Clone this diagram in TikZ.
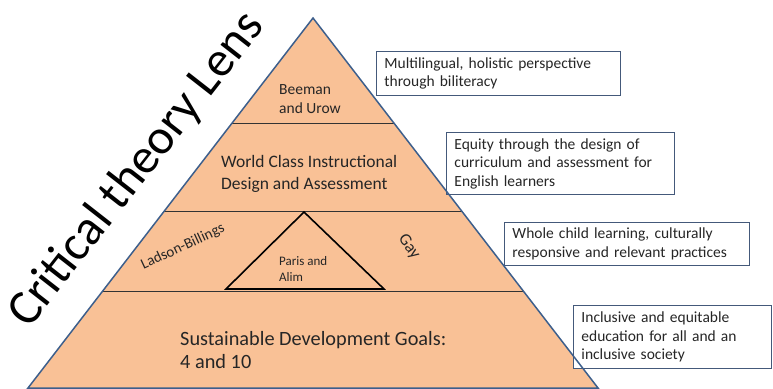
\documentclass[tikz,border=0pt]{standalone}
\usepackage{fontspec}
\setmainfont{Carlito}
\usetikzlibrary{calc}
\definecolor{peach}{HTML}{F9C196}
\definecolor{edgeblue}{HTML}{3D5F8C}
\definecolor{boxblue}{HTML}{44597A}

\tikzset{
	layer/.style={inner sep=0pt, align=left, anchor=west, text=black!85},
	note/.style={draw=boxblue, line width=0.9pt, fill=white, anchor=north west,
		align=left, inner xsep=8pt, inner ysep=0pt, text=black!85,
		font=\fontsize{15.5}{18.5}\selectfont},
}

\begin{document}
\begin{tikzpicture}[x=1pt,y=-1pt]
	\useasboundingbox (0,0) rectangle (773,388);
	% Pyramid corners
	\coordinate (apex) at (313,18);
	\coordinate (bl) at (28,388);
	\coordinate (br) at (598,388);
	\fill[peach] (apex) -- (bl) -- (br) -- cycle;
	% Band dividers
	\foreach \t in {0.2846, 0.523, 0.740} {
		\draw[black!80, line width=0.8pt] ($(apex)!\t!(bl)$) -- ($(apex)!\t!(br)$);
	}
	% Inner triangle
	\coordinate (tip) at (304,212);
	\coordinate (tl) at (226,289);
	\coordinate (tr) at (384,289);
	\draw[black, line width=1.6pt, line join=miter] (tip) -- (tl) -- (tr) -- cycle;
	% Layer labels
	\node[layer, font=\fontsize{15.5}{19}\selectfont] (beeman) at (279,99) {Beeman\\and Urow};
	\node[layer, font=\fontsize{17.5}{22}\selectfont] (wida) at (221,174) {World Class Instructional\\Design and Assessment};
	\node[layer, font=\fontsize{13}{16}\selectfont] (paris) at (279,269) {Paris and\\Alim};
	\node[layer, font=\fontsize{20.3}{23.5}\selectfont] (sdg) at (180,350) {Sustainable Development Goals:\\4 and 10};
	\node[inner sep=0pt, rotate=25, text=black!85, font=\fontsize{15}{17}\selectfont] (ladson) at (183,247) {Ladson-Billings};
	\node[inner sep=0pt, rotate=-55, text=black!85, font=\fontsize{17}{20}\selectfont] (gay) at (409,247) {Gay};
	% Side notes
	\node[note, text width=228pt, minimum height=44pt] (n1) at (376,51) {Multilingual, holistic perspective\\through biliteracy};
	\node[note, text width=212pt, minimum height=62pt] (n2) at (446,132) {Equity through the design of\\curriculum and assessment for\\English learners};
	\node[note, text width=229pt, minimum height=43pt] (n3) at (504,222) {Whole child learning, culturally\\responsive and relevant practices};
	\node[note, text width=182pt, minimum height=63pt] (n4) at (573,305) {Inclusive and equitable\\education for all and an\\inclusive society};
	% Pyramid outline
	\draw[edgeblue, line width=1.5pt, line join=miter] (apex) -- (bl) -- (br) -- cycle;
	% Title along the left side
	\node[inner sep=0pt, rotate=52, font=\fontsize{49.5}{50}\selectfont] (lens) at (137,170) {Critical theory Lens};
\end{tikzpicture}
\end{document}
